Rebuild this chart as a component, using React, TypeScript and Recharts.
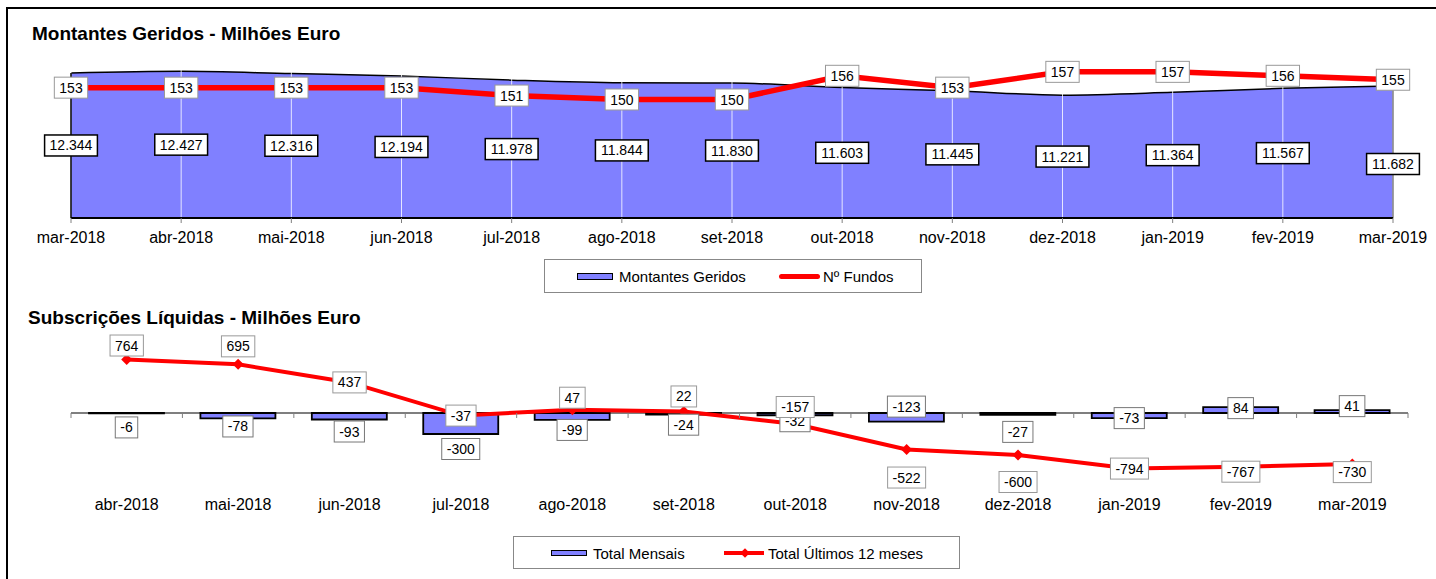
import React from 'react'
import { ComposedChart, Area, Line, Bar, XAxis, YAxis, CartesianGrid, ReferenceLine, LabelList } from 'recharts'

const FONT = '"Liberation Sans", Arial, Helvetica, sans-serif'
const BLUE = '#8080FF'
const RED = '#FF0000'

// Montantes Geridos (top chart)
const monthsTop = [
  'mar-2018', 'abr-2018', 'mai-2018', 'jun-2018', 'jul-2018', 'ago-2018', 'set-2018',
  'out-2018', 'nov-2018', 'dez-2018', 'jan-2019', 'fev-2019', 'mar-2019',
]
const montantes = [12344, 12427, 12316, 12194, 11978, 11844, 11830, 11603, 11445, 11221, 11364, 11567, 11682]
const numFundos = [153, 153, 153, 153, 151, 150, 150, 156, 153, 157, 157, 156, 155]
const montantesLabelDy = [0, 0, 0, 0, 0, 0, 0, 0, 0, 0, 0, 0, 12]

// Subscrições Líquidas (bottom chart)
const monthsBottom = [
  'abr-2018', 'mai-2018', 'jun-2018', 'jul-2018', 'ago-2018', 'set-2018',
  'out-2018', 'nov-2018', 'dez-2018', 'jan-2019', 'fev-2019', 'mar-2019',
]
const totalMensal = [-6, -78, -93, -300, -99, -24, -32, -123, -27, -73, 84, 41]
const total12m = [764, 695, 437, -37, 47, 22, -157, -522, -600, -794, -767, -730]
// manual label nudges, as in the original sheet
const mensalLabelDy = [14, 8, 12, 15, 10, 10, 6, -15, 17, 0, 1, -4]
const total12mLabelDy = [-14, -18, 0, 0, -12, -15, -17, 28, 27, 0, 5, 8]

const topData = monthsTop.map((m, i) => ({ month: m, montantes: montantes[i], fundos: numFundos[i] }))
const bottomData = monthsBottom.map((m, i) => ({ month: m, mensal: totalMensal[i], total12: total12m[i] }))

const TOP = { width: 1436, height: 255, margin: { top: 60, right: 43, bottom: 7, left: 71 }, xAxisH: 30 }
const topPlotBottom = TOP.height - TOP.margin.bottom - TOP.xAxisH

const BOT = { top: 330, width: 1436, height: 200, margin: { top: 13, right: 28, bottom: 7, left: 71 }, xAxisH: 40 }
const botDomain = [-1000, 1000]
const botPlotH = BOT.height - BOT.margin.top - BOT.margin.bottom - BOT.xAxisH
const botZeroY = BOT.margin.top + (botPlotH * botDomain[1]) / (botDomain[1] - botDomain[0])
const bandW = (BOT.width - BOT.margin.left - BOT.margin.right) / monthsBottom.length

const fmtThousands = (v: number) => String(v).replace(/\B(?=(\d{3})+(?!\d))/g, '.')

function textWidth(s: string, size: number) {
  let w = 0
  for (const c of s) w += c === '.' ? 0.278 : c === '-' ? 0.333 : 0.556
  return w * size
}

function BoxLabel({ cx, cy, text, stroke, sw }: { cx: number; cy: number; text: string; stroke: string; sw: number }) {
  const w = textWidth(text, 14) + 10
  const h = 21
  return (
    <g>
      <rect x={cx - w / 2} y={cy - h / 2} width={w} height={h} fill="#fff" stroke={stroke} strokeWidth={sw} />
      <text x={cx} y={cy + 5} textAnchor="middle" fontSize={14} fontFamily={FONT} fill="#000">
        {text}
      </text>
    </g>
  )
}

const pos = (p: any) => {
  const vb = p.viewBox || {}
  return { x: p.x ?? vb.x, y: p.y ?? vb.y, width: vb.width ?? p.width ?? 0, height: vb.height ?? p.height ?? 0 }
}

function MontantesLabel(p: any) {
  const { x, y } = pos(p)
  const cy = (y + topPlotBottom) / 2 + montantesLabelDy[p.index]
  return <BoxLabel cx={x} cy={cy} text={fmtThousands(p.value)} stroke="#000" sw={1.5} />
}

function FundosLabel(p: any) {
  const { x, y } = pos(p)
  return <BoxLabel cx={x} cy={y} text={String(p.value)} stroke="#999" sw={1} />
}

function MensalLabel(p: any) {
  const { x, y, width, height } = pos(p)
  const end = p.value < 0 ? Math.max(y, y + height) : Math.min(y, y + height)
  return <BoxLabel cx={x + width / 2} cy={end + mensalLabelDy[p.index]} text={String(p.value)} stroke="#777" sw={1} />
}

function Total12Label(p: any) {
  const { x, y } = pos(p)
  return <BoxLabel cx={x} cy={y + total12mLabelDy[p.index]} text={String(p.value)} stroke="#999" sw={1} />
}

function Diamond(p: any) {
  const { cx, cy } = p
  if (cx == null || cy == null) return <g />
  const r = 5.5
  return <path d={`M${cx},${cy - r}L${cx + r},${cy}L${cx},${cy + r}L${cx - r},${cy}Z`} fill={RED} />
}

function BottomTick(p: any) {
  const { x, y, payload, index } = p
  const last = index === monthsBottom.length - 1
  return (
    <g>
      <line x1={x - bandW / 2} x2={x - bandW / 2} y1={botZeroY} y2={botZeroY + 5} stroke="#808080" />
      {last && <line x1={x + bandW / 2} x2={x + bandW / 2} y1={botZeroY} y2={botZeroY + 5} stroke="#808080" />}
      <text x={x} y={y} dy="0.71em" textAnchor="middle" fontSize={16} fontFamily={FONT} fill="#000">
        {payload.value}
      </text>
    </g>
  )
}

const textStyle = (size: number, bold = false): React.CSSProperties => ({
  position: 'absolute',
  fontFamily: FONT,
  fontSize: size,
  lineHeight: `${size}px`,
  fontWeight: bold ? 'bold' : 'normal',
  color: '#000',
  whiteSpace: 'nowrap',
})

export default function App() {
  return (
    <div style={{ position: 'absolute', left: 0, top: 0, width: 1436, height: 579, overflow: 'hidden', background: '#fff' }}>
      <div style={{ position: 'absolute', left: 6, top: 7, width: 1440, height: 600, borderLeft: '2px solid #000', borderTop: '2px solid #000' }} />

      <div style={{ ...textStyle(19, true), left: 32, top: 24 }}>Montantes Geridos - Milhões Euro</div>
      <div style={{ position: 'absolute', left: 0, top: 0 }}>
        <ComposedChart width={TOP.width} height={TOP.height} data={topData} margin={TOP.margin}>
          <XAxis
            dataKey="month"
            scale="point"
            interval={0}
            height={TOP.xAxisH}
            axisLine={{ stroke: '#000', strokeWidth: 2 }}
            tickLine={{ stroke: '#808080' }}
            tickSize={5}
            tickMargin={9}
            tick={{ fontSize: 16, fontFamily: FONT, fill: '#000' }}
          />
          <YAxis yAxisId="left" hide width={0} domain={[5000, 13000]} />
          <YAxis yAxisId="right" orientation="right" hide width={0} domain={[120, 160]} />
          <Area
            yAxisId="left"
            type="monotone"
            dataKey="montantes"
            fill={BLUE}
            fillOpacity={1}
            stroke="#000"
            strokeWidth={1.5}
            isAnimationActive={false}
          >
            <LabelList dataKey="montantes" content={MontantesLabel} />
          </Area>
          <CartesianGrid vertical horizontal={false} stroke="#ffffff" strokeOpacity={0.8} {...({ zIndex: 150 } as any)} />
          <ReferenceLine
            yAxisId="left"
            segment={[{ x: monthsTop[0], y: 5000 }, { x: monthsTop[0], y: montantes[0] }]}
            stroke="#000"
            strokeWidth={1.5}
          />
          <ReferenceLine
            yAxisId="left"
            segment={[{ x: monthsTop[12], y: 5000 }, { x: monthsTop[12], y: montantes[12] }]}
            stroke="#808080"
            strokeWidth={1.5}
          />
          <Line
            yAxisId="right"
            type="linear"
            dataKey="fundos"
            stroke={RED}
            strokeWidth={5.5}
            dot={false}
            isAnimationActive={false}
          >
            <LabelList dataKey="fundos" content={FundosLabel} />
          </Line>
        </ComposedChart>
      </div>

      {/* legend top */}
      <div style={{ position: 'absolute', left: 544, top: 259, width: 376, height: 32, border: '1px solid #888' }} />
      <div style={{ position: 'absolute', left: 577, top: 273, width: 34, height: 5, background: BLUE, border: '1.5px solid #000' }} />
      <div style={{ ...textStyle(15), left: 619, top: 268.5 }}>Montantes Geridos</div>
      <div style={{ position: 'absolute', left: 779, top: 274, width: 41, height: 5, background: RED, borderRadius: 3 }} />
      <div style={{ ...textStyle(15), left: 823, top: 268.5 }}>Nº Fundos</div>

      <div style={{ ...textStyle(19, true), left: 28, top: 307.5 }}>Subscrições Líquidas - Milhões Euro</div>
      <div style={{ position: 'absolute', left: 0, top: BOT.top }}>
        <ComposedChart width={BOT.width} height={BOT.height} data={bottomData} margin={BOT.margin}>
          <XAxis
            dataKey="month"
            interval={0}
            height={BOT.xAxisH}
            axisLine={false}
            tickLine={false}
            tickSize={0}
            tickMargin={15.5}
            tick={BottomTick}
          />
          <YAxis hide width={0} domain={botDomain} />
          <ReferenceLine y={0} stroke="#000" strokeWidth={1.2} />
          <Bar dataKey="mensal" fill={BLUE} stroke="#000" strokeWidth={1.8} barSize={75} isAnimationActive={false}>
            <LabelList dataKey="mensal" content={MensalLabel} />
          </Bar>
          <Line
            type="linear"
            dataKey="total12"
            stroke={RED}
            strokeWidth={4}
            dot={Diamond}
            isAnimationActive={false}
          >
            <LabelList dataKey="total12" content={Total12Label} />
          </Line>
        </ComposedChart>
      </div>

      {/* legend bottom */}
      <div style={{ position: 'absolute', left: 513, top: 536, width: 445, height: 31, border: '1px solid #888' }} />
      <div style={{ position: 'absolute', left: 551, top: 549.5, width: 34, height: 4, background: BLUE, border: '1.5px solid #000' }} />
      <div style={{ ...textStyle(15), left: 593, top: 545.6 }}>Total Mensais</div>
      <div style={{ position: 'absolute', left: 724, top: 551, width: 40, height: 4, background: RED }} />
      <div style={{ position: 'absolute', left: 741, top: 549, width: 8, height: 8, background: RED, transform: 'rotate(45deg) scale(0.85)' }} />
      <div style={{ ...textStyle(15), left: 768, top: 545.6 }}>Total Últimos 12 meses</div>
    </div>
  )
}
